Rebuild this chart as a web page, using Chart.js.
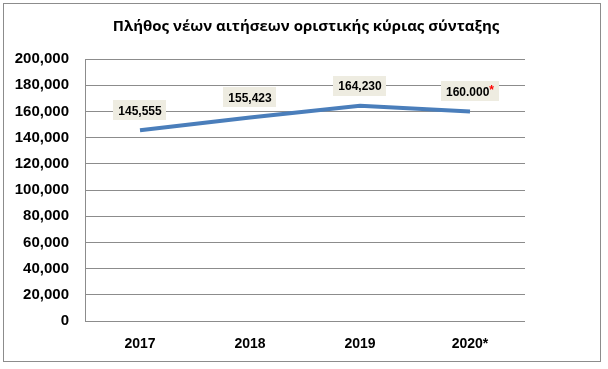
<!DOCTYPE html>
<html>
<head>
<meta charset="utf-8">
<script src="https://cdn.jsdelivr.net/npm/chart.js@4"></script>
<style>
  html, body { margin: 0; padding: 0; background: #fff; }
  #wrap { width: 608px; height: 369px; position: relative; }
</style>
</head>
<body>
<div id="wrap"><canvas id="c"></canvas></div>
<script>
// chart data
const years = ['2017', '2018', '2019', '2020*'];
const applications = [145555, 155423, 164230, 160000];
const pointLabels = ['145,555', '155,423', '164,230', '160.000'];
const labelMarks = ['', '', '', '*'];   // red suffix on the estimate
const titleText = 'Πλήθος νέων αιτήσεων οριστικής κύριας σύνταξης';

// outer frame + title centred on the whole canvas (not just the plot)
const framePlugin = {
    id: 'frame',
    beforeDraw(chart) {
        const ctx = chart.ctx;
        ctx.save();
        ctx.fillStyle = '#fff';
        ctx.fillRect(0, 0, chart.width, chart.height);
        ctx.strokeStyle = '#8c8c8c';
        ctx.lineWidth = 1;
        ctx.strokeRect(3.5, 3.5, 597, 358);
        ctx.fillStyle = '#000';
        ctx.font = 'bold 15px "Open Sans", sans-serif';
        ctx.textAlign = 'center';
        ctx.textBaseline = 'middle';
        ctx.fillText(titleText, 306, 27);
        ctx.restore();
    },
};

// boxed value labels above each point
const valueLabels = {
    id: 'valueLabels',
    afterDatasetsDraw(chart) {
        const ctx = chart.ctx;
        const meta = chart.getDatasetMeta(0);
        ctx.save();
        ctx.font = 'bold 12px "Liberation Sans", Arial, sans-serif';
        ctx.textBaseline = 'middle';
        meta.data.forEach((pt, i) => {
            const txt = pointLabels[i];
            const mark = labelMarks[i];
            const w1 = ctx.measureText(txt).width;
            const w2 = mark ? ctx.measureText(mark).width : 0;
            const w = w1 + w2 + 10;
            const h = 20;
            const cx = pt.x;
            const cy = pt.y - 20;
            ctx.fillStyle = '#eeece1';
            ctx.fillRect(Math.round(cx - w / 2), Math.round(cy - h / 2), Math.round(w), h);
            ctx.textAlign = 'left';
            ctx.fillStyle = '#000';
            const x0 = cx - (w1 + w2) / 2;
            ctx.fillText(txt, x0, cy + 1);
            if (mark) {
                ctx.fillStyle = '#ff0000';
                ctx.fillText(mark, x0 + w1, cy - 1);
            }
        });
        ctx.restore();
    },
};

new Chart(document.getElementById('c'), {
    type: 'line',
    data: {
        labels: years,
        datasets: [{
            data: applications,
            borderColor: '#4a7ebb',
            borderWidth: 4,
            pointRadius: 0,
            tension: 0,
            fill: false,
        }],
    },
    options: {
        responsive: true,
        maintainAspectRatio: false,
        animation: false,
        layout: { padding: { top: 59, right: 83, bottom: 0, left: 0 } },
        plugins: {
            legend: { display: false },
            tooltip: { enabled: false },
            title: { display: false },
        },
        scales: {
            x: {
                offset: true,
                grid: { display: false, drawTicks: false },
                border: { display: false },
                ticks: {
                    color: '#000',
                    padding: 15,
                    font: { family: '"Liberation Sans", Arial, sans-serif', size: 14, weight: 'bold' },
                },
                afterFit(scale) { scale.height = 48; },
            },
            y: {
                min: 0,
                max: 200000,
                grid: { color: '#8c8c8c', drawTicks: false },
                border: { display: true, color: '#8c8c8c' },
                ticks: {
                    stepSize: 20000,
                    color: '#000',
                    padding: 16,
                    font: { family: '"Liberation Sans", Arial, sans-serif', size: 15, weight: 'bold' },
                    callback: v => v.toLocaleString('en-US'),
                },
                afterFit(scale) { scale.width = 85; },
            },
        },
    },
    plugins: [framePlugin, valueLabels],
});
</script>
</body>
</html>
